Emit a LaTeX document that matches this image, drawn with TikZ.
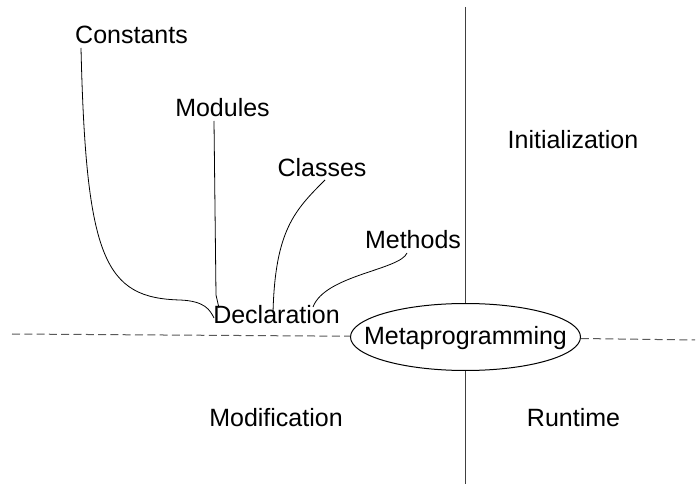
\documentclass[tikz,border=0pt]{standalone}
\usepackage{fontspec}
\setmainfont{Liberation Sans}
\usetikzlibrary{shapes.geometric}
\begin{document}
\begin{tikzpicture}[x=1pt,y=-1pt,
  lbl/.style={anchor=base,inner sep=0pt,font=\fontsize{25}{30}\selectfont},
  conn/.style={draw=black,line width=0.8pt},
  axis/.style={draw=black!75,line width=1pt},
  split/.style={draw=black!65,line width=1pt,dash pattern=on 8pt off 4.3pt}]
\useasboundingbox (0,0) rectangle (697,489);
\node[lbl] (cons) at (131.5,44) {Constants};
\node[lbl] (mods) at (222.5,117) {Modules};
\node[lbl] (clss) at (322,177) {Classes};
\node[lbl] (meth) at (413,249) {Methods};
\node[lbl] (decl) at (276.5,324) {Declaration};
\node[lbl] (init) at (573,149) {Initialization};
\node[lbl] (modi) at (276,427) {Modification};
\node[lbl] (runt) at (573.5,427) {Runtime};
\node[ellipse,draw=black,line width=1pt,minimum width=230pt,minimum height=67pt,inner sep=0pt,
      label={[inner sep=0pt,text height=20pt,text depth=4pt,font=\fontsize{25}{30}\selectfont]center:Metaprogramming}] (meta) at (465.5,337) {};
\coordinate (vtop) at (465.5,7);
\coordinate (vbot) at (465.5,484);
\coordinate (hl) at (12,334);
\coordinate (hr) at (695,340);
\draw[axis] (vtop) -- (meta.north);
\draw[axis] (meta.south) -- (vbot);
\draw[split] (hl) -- (meta);
\draw[split] (meta) -- (hr);
\draw[conn] ([xshift=-50.5pt,yshift=-4pt]cons.base) .. controls (86,260) and (105,298) .. (180,300)
  .. controls (205,301) and (210,310) .. ([xshift=-62.5pt,yshift=6pt]decl.base);
\draw[conn] ([xshift=-8.5pt,yshift=-4pt]mods.base) -- (216,295)
  .. controls (217,302) .. ([xshift=-57.5pt,yshift=16pt]decl.base);
\draw[conn] ([xshift=3pt,yshift=-3pt]clss.base) .. controls (295,210) and (275,230) .. ([xshift=-3.5pt,yshift=11pt]decl.base);
\draw[conn] ([xshift=-6pt,yshift=-4pt]meth.base) .. controls (400,270) and (325,275) .. ([xshift=36.5pt,yshift=17pt]decl.base);
\end{tikzpicture}
\end{document}
